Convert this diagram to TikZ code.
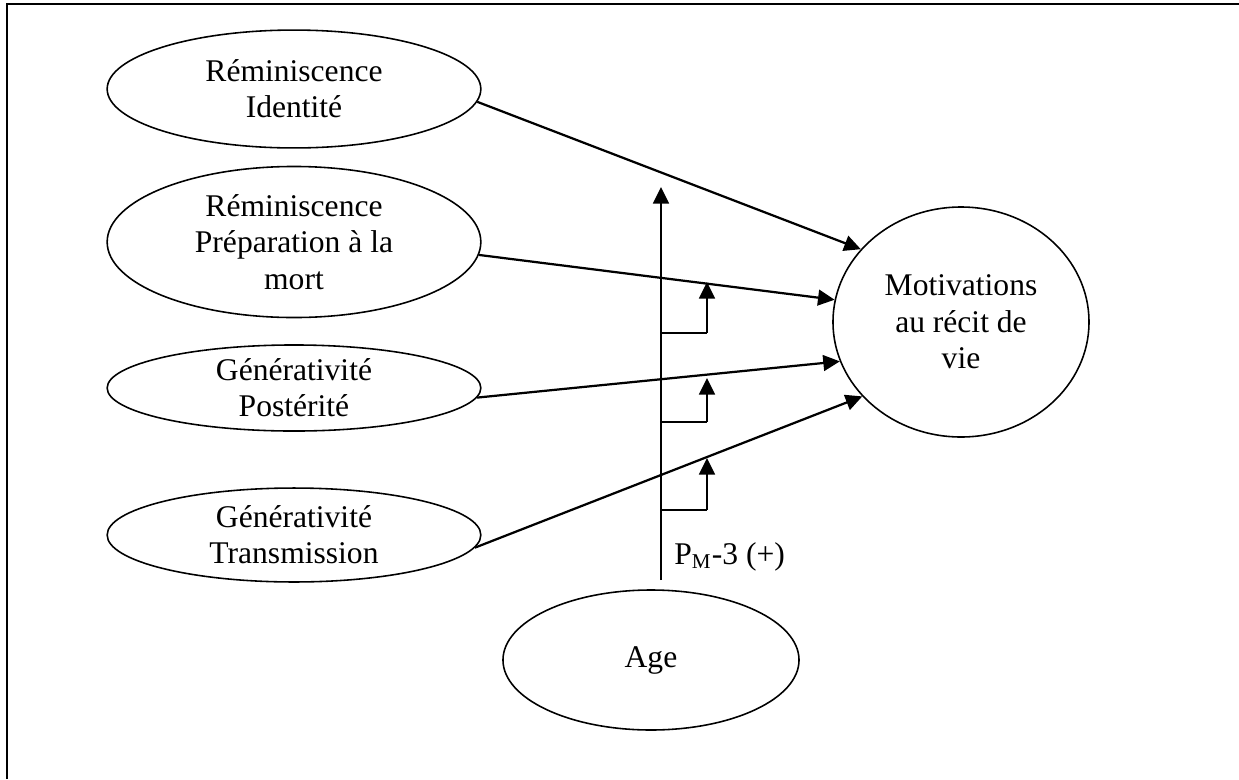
\documentclass[tikz,border=0pt]{standalone}
\usepackage{fontspec}
\setmainfont{Liberation Serif}
\usetikzlibrary{shapes.geometric,arrows.meta}
\tikzset{
  bulle/.style={draw,ellipse,line width=0.6pt,inner sep=-4pt,align=center,
    font=\fontsize{12}{13.8}\selectfont},
  fleche/.style={line width=0.85pt,-{Triangle[length=6.3pt,width=6pt]}},
}
\begin{document}
\begin{tikzpicture}[x=0.38pt,y=-0.38pt]
    \useasboundingbox (0,0) rectangle (1239,779);
    % cadre
    \draw[line width=0.7pt] (7,779) -- (7,4) -- (1239,4);
    % variables
    \node[bulle,minimum width=142pt,minimum height=44.8pt] (ident) at (294,89) {Réminiscence\\Identité};
    \node[bulle,minimum width=142pt,minimum height=57.4pt] (mort) at (294,242) {Réminiscence\\Préparation à la\\mort};
    \node[bulle,minimum width=142pt,minimum height=32.7pt] (post) at (294,388) {Générativité\\Postérité};
    \node[bulle,minimum width=142pt,minimum height=35.7pt] (trans) at (294,535) {Générativité\\Transmission};
    \node[bulle,minimum width=97.3pt,minimum height=87.4pt] (motiv) at (961,322) {Motivations\\au récit de\\vie};
    \node[bulle,minimum width=112.5pt,minimum height=53.2pt] (age) at (651,660) {Age};
    % effets directs
    \draw[fleche] (ident.-4) -- (motiv.144);
    \draw[fleche] (mort.-4) -- (motiv.170);
    \draw[fleche] (post.-3) -- (motiv.198);
    \draw[fleche] (trans.-4) -- (motiv.217);
    % moderation
    \coordinate (pied) at (661,580);
    \coordinate (pointe) at (661,187);
    \draw[fleche] (pied) -- (pointe);
    \node[anchor=base west,font=\fontsize{12}{13.8}\selectfont] (pm) at (665,564) {P\textsubscript{M}-3 (+)};
    \coordinate (b1) at (661,333);
    \coordinate (c1) at (707,333);
    \coordinate (h1) at (707,282);
    \coordinate (b2) at (661,422);
    \coordinate (c2) at (707,422);
    \coordinate (h2) at (707,378);
    \coordinate (b3) at (661,510);
    \coordinate (c3) at (707,510);
    \coordinate (h3) at (707,458);
    \draw[line width=0.4pt] (b1) -- (c1);
    \draw[fleche] (c1) -- (h1);
    \draw[line width=0.4pt] (b2) -- (c2);
    \draw[fleche] (c2) -- (h2);
    \draw[line width=0.4pt] (b3) -- (c3);
    \draw[fleche] (c3) -- (h3);
\end{tikzpicture}
\end{document}
